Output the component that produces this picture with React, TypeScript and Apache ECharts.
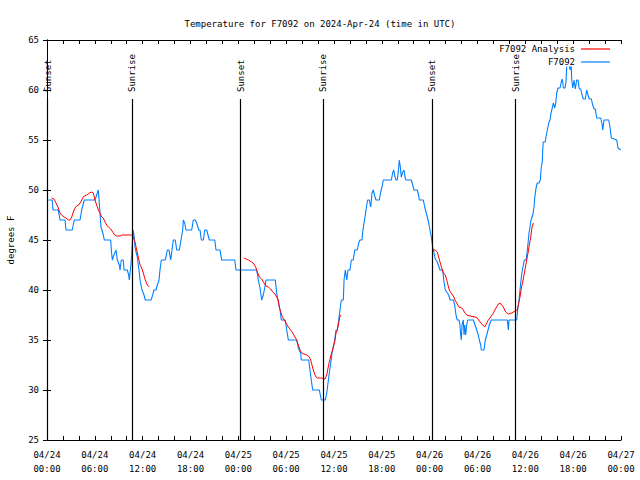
import React, { useEffect, useRef } from 'react';
import * as echarts from 'echarts';

// Hours since 2024-04-24 00:00 UTC
const xTickLabels = [
  '04/24\n00:00', '04/24\n06:00', '04/24\n12:00', '04/24\n18:00',
  '04/25\n00:00', '04/25\n06:00', '04/25\n12:00', '04/25\n18:00',
  '04/26\n00:00', '04/26\n06:00', '04/26\n12:00', '04/26\n18:00',
  '04/27\n00:00',
];

const sunEventHours = [0.09, 10.7, 24.29, 34.66, 48.33, 58.79];
const sunEventNames = ['Sunset', 'Sunrise', 'Sunset', 'Sunrise', 'Sunset', 'Sunrise'];
const sunLineTop = 59.1;

// F7092 observations
const obsHours = [
  0.16, 0.66, 0.75, 1.42, 1.63, 2.26, 2.38, 3.17, 3.42, 4.14, 4.35, 4.68, 6.02, 6.44, 6.56, 6.77, 6.9, 7.06, 7.19, 7.99,
  8.07, 8.19, 8.4, 8.66, 8.82, 9.07, 9.16, 9.32, 9.57, 9.66, 10.07, 10.25, 10.32, 10.5, 10.62, 10.79, 10.91, 11.04, 11.16, 11.33,
  11.41, 11.54, 11.67, 11.92, 12.17, 12.33, 13.05, 13.26, 13.42, 13.67, 13.84, 14.05, 14.17, 14.34, 14.84, 15.09, 15.3, 15.52, 15.68, 15.84,
  16.09, 16.27, 16.6, 16.81, 17.02, 17.1, 17.27, 17.44, 18.15, 18.35, 18.6, 18.78, 19.03, 19.19, 19.36, 19.61, 19.78, 20.03, 20.2, 20.36,
  21.04, 21.2, 21.7, 21.91, 23.55, 23.71, 26.3, 26.51, 26.72, 26.93, 27.13, 27.31, 27.47, 28.64, 28.81, 29.01, 29.23, 29.39, 29.89, 30.07,
  30.27, 31.32, 31.52, 31.82, 31.9, 32.83, 32.99, 33.15, 33.33, 34.16, 34.41, 34.91, 35.09, 35.25, 35.41, 35.59, 35.75, 35.91, 36.09, 36.25,
  36.41, 36.59, 36.75, 36.92, 37.17, 37.26, 37.42, 37.6, 37.76, 38.01, 38.17, 38.42, 38.6, 38.92, 39.1, 39.26, 39.51, 39.6, 39.76, 39.93,
  40.1, 40.23, 40.43, 40.61, 40.77, 40.93, 41.11, 41.27, 41.68, 41.86, 42.02, 42.19, 43.19, 43.36, 43.49, 43.65, 43.78, 43.94, 44.12, 44.19,
  44.32, 44.44, 44.62, 44.78, 44.91, 45.03, 45.7, 45.87, 46.04, 46.45, 46.63, 46.71, 47.2, 47.38, 47.54, 47.7, 47.88, 48.04, 48.21, 48.38,
  48.54, 48.71, 48.96, 49.13, 49.3, 49.63, 49.8, 49.96, 50.14, 50.39, 50.55, 50.97, 51.14, 51.3, 51.46, 51.68, 51.8, 51.89, 51.97, 52.06,
  52.22, 52.31, 52.39, 52.52, 52.64, 52.77, 53.48, 53.69, 53.9, 54.1, 54.23, 54.4, 54.48, 54.82, 54.98, 55.16, 55.32, 55.48, 55.73, 57.74,
  57.87, 57.95, 58.92, 59.04, 59.21, 59.33, 59.46, 59.62, 59.75, 59.87, 60.09, 60.21, 60.34, 60.46, 60.59, 60.71, 60.93, 61.09, 61.18, 61.34,
  61.5, 61.72, 61.88, 62.0, 62.13, 62.18, 62.25, 62.5, 62.63, 62.76, 62.93, 63.1, 63.22, 63.38, 63.51, 63.69, 63.81, 63.94, 64.1, 64.35,
  64.51, 64.64, 64.77, 64.98, 65.1, 65.23, 65.44, 65.61, 65.73, 65.82, 65.95, 66.11, 66.27, 66.44, 66.61, 66.77, 66.94, 67.11, 67.27, 67.52,
  67.7, 67.86, 68.02, 68.28, 68.45, 68.62, 68.78, 68.95, 69.46, 69.62, 69.71, 69.87, 70.46, 70.62, 70.79, 71.46, 71.62, 71.96,
];
const obsTemps = [
  49, 49, 48, 48, 47, 47, 46, 46, 47, 47, 48, 49, 49, 50, 48.7, 46.3, 46, 45.5, 45, 45,
  44, 43, 43.5, 44, 43, 42.5, 42, 43, 43, 42, 42, 41.5, 41, 42.3, 43.5, 46, 45.5, 44.3, 43.8, 43.3,
  42.7, 42, 41, 40, 39.5, 39, 39, 39.5, 40, 40, 40.5, 41, 42, 43, 43, 44, 44, 43, 44, 45,
  45, 44, 44, 45, 46, 47, 46.7, 46, 46, 47, 47, 46.7, 46, 46, 45, 45, 46, 46, 45.5, 45,
  45, 44, 44, 43, 43, 42, 42, 41, 40.2, 39, 39.5, 40.2, 41, 41, 39.7, 38.8, 38, 37, 37, 36,
  35, 35, 34.2, 33.7, 33, 33, 32, 31, 30, 30, 29, 29, 29.7, 30.7, 31.7, 32.7, 33.7, 34.3, 35, 36,
  36, 37, 38, 39, 39, 41, 42, 41, 42, 42, 43, 43, 44, 44, 44.7, 45, 45, 45.8, 46.7, 47.5,
  48.5, 49, 49, 48.3, 49.7, 50, 49.4, 49, 49, 49.8, 50.3, 51, 51, 51.7, 52, 51.3, 51, 51, 52.3, 53,
  52.3, 51.3, 51.8, 52, 51.3, 51, 51, 50.5, 50, 50, 49.4, 49, 49, 48.3, 47.8, 47.3, 46.7, 46, 45.3, 44.3,
  43.7, 43.1, 42.8, 42.4, 42, 42, 40.8, 40, 39.8, 39.5, 39, 39, 38.5, 37.5, 37, 37, 36.5, 35.5, 35, 36.5,
  37, 35.5, 36.5, 35.5, 36.5, 37, 37, 36.5, 36, 35.5, 35, 34.5, 34, 34, 35, 35.5, 36, 36.5, 37, 37,
  36, 37, 37, 38, 39, 40, 41, 42, 42.5, 43, 43, 43.7, 44.7, 45.7, 46.3, 47, 47.5, 48.3, 49.2, 50.2,
  50.7, 50.7, 51, 52.3, 52.8, 54, 54.8, 54.8, 55.5, 56, 56.7, 57, 57.7, 58.2, 58.7, 58.2, 58.7, 59.7, 60.2, 60.2,
  60.8, 61.1, 60.2, 60.2, 60.8, 63, 63, 62, 63, 61, 60.2, 61, 60.1, 61, 61, 60.1, 60.1, 59.5, 59.1, 59.1,
  60, 59.5, 59.1, 59.1, 58.5, 58.1, 58.1, 57.2, 57.2, 56.6, 56, 57, 57, 56.3, 55.2, 55, 54.2, 54,
];

// F7092 Analysis (three separate runs)
const anaHours1 = [
  0.59, 0.88, 1.13, 1.42, 1.63, 1.84, 2.13, 2.38, 2.67, 2.89, 3.1, 3.3, 3.51, 3.73, 3.98, 4.23, 4.48, 4.68, 4.98, 5.31,
  5.61, 5.81, 6.02, 6.23, 6.44, 6.65, 6.86, 7.06, 7.28, 7.49, 7.69, 7.99, 8.24, 8.49, 8.74, 9.16, 9.37, 10.62, 10.83, 11.04,
  11.25, 11.45, 11.67, 11.88, 12.08, 12.33, 12.58, 12.83,
];
const anaTemps1 = [
  49.2, 49.1, 48.7, 48.2, 47.7, 47.5, 47.3, 47.2, 47, 47, 47.3, 47.8, 48.2, 48.4, 48.5, 48.8, 49.2, 49.4, 49.5, 49.7,
  49.8, 49.7, 49, 48.5, 48, 47.7, 47.3, 47.2, 46.8, 46.5, 46.3, 46.1, 45.8, 45.5, 45.4, 45.4, 45.5, 45.5, 45.3, 44.8,
  44, 43.3, 42.5, 42.2, 41.7, 41, 40.5, 40.3,
];
const anaHours2 = [
  24.71, 25.25, 25.68, 25.97, 26.22, 26.43, 26.63, 26.93, 27.22, 27.47, 27.76, 28.06, 28.31, 28.6, 28.81, 29.01, 29.14, 29.32, 29.48, 29.73,
  29.98, 30.27, 30.57, 30.82, 31.11, 31.32, 31.52, 31.74, 31.95, 32.24, 32.58, 32.9, 33.08, 33.24, 33.4, 33.58, 33.74, 33.91, 34.46, 34.87,
  35.09, 35.25, 35.41, 35.59, 35.75, 35.91, 36.09, 36.25, 36.41, 36.59, 36.75, 36.88,
];
const anaTemps2 = [
  43.2, 43, 42.8, 42.6, 42.2, 41.7, 41.3, 41.1, 40.7, 40.4, 40.3, 40.1, 39.8, 39.6, 39.3, 39, 38.3, 37.8, 37.4, 37,
  36.7, 36.3, 36, 35.7, 35.3, 35, 34.5, 34, 33.7, 33.6, 33.5, 33.3, 33, 32.5, 32, 31.6, 31.3, 31.2, 31.2, 31.1,
  31.5, 32.2, 32.8, 33.4, 33.8, 34.3, 34.8, 35.7, 36, 36.7, 37.4, 37.5,
];
const anaHours3 = [
  48.38, 48.67, 48.96, 49.13, 49.3, 49.51, 49.71, 49.96, 50.14, 50.3, 50.46, 50.68, 50.97, 51.18, 51.39, 51.68, 52.02, 52.22, 52.43, 52.64,
  53.06, 53.69, 53.98, 54.32, 54.65, 54.9, 55.16, 55.36, 55.66, 55.98, 56.32, 56.61, 56.82, 57.04, 57.24, 57.54, 57.87, 58.29, 58.71, 58.99,
  59.17, 59.33, 59.5, 59.67, 59.83, 59.99, 60.17, 60.34, 60.5, 60.68, 60.84, 61.01,
];
const anaTemps3 = [
  44, 44, 43.8, 43.3, 42.8, 42.2, 41.7, 41.5, 41, 40.5, 40, 39.7, 39.4, 39, 38.7, 38.3, 38.2, 38, 37.7, 37.5,
  37.4, 37.3, 37.2, 36.8, 36.5, 36.3, 36.7, 37, 37.3, 37.7, 38.2, 38.6, 38.7, 38.5, 38.3, 37.8, 37.6, 37.7, 37.9, 38,
  38.7, 39.3, 40.2, 40.8, 41.5, 42.2, 43, 43.7, 44.5, 45.3, 46.3, 46.7,
];

const FONT = '"DejaVu Sans Mono", "Liberation Mono", monospace';
const FS = 9;

function pairs(xs: number[], ys: number[]) {
  return xs.map((x, i) => [x, ys[i]]);
}

export default function App() {
  const ref = useRef<HTMLDivElement>(null);

  useEffect(() => {
    if (!ref.current) return;
    const chart = echarts.init(ref.current, undefined, { renderer: 'svg' });

    const anaData: any[] = [
      ...pairs(anaHours1, anaTemps1),
      [18, null],
      ...pairs(anaHours2, anaTemps2),
      [42, null],
      ...pairs(anaHours3, anaTemps3),
    ];

    const tickCommon = {
      axisLine: { show: true, lineStyle: { color: '#000', width: 1 } },
      axisTick: { show: true, inside: true, length: 4, lineStyle: { color: '#000' } },
      splitLine: { show: false },
    };

    chart.setOption({
      animation: false,
      backgroundColor: '#fff',
      textStyle: { fontFamily: FONT, fontSize: FS, color: '#000' },
      title: {
        text: 'Temperature for F7092 on 2024-Apr-24 (time in UTC)',
        left: 'center',
        top: 14,
        textStyle: { fontFamily: FONT, fontSize: FS, fontWeight: 'normal', color: '#000' },
      },
      grid: { left: 47, right: 19, top: 40, bottom: 40, containLabel: false, outerBoundsMode: 'none' },
      xAxis: [
        {
          type: 'value', min: 0, max: 72, interval: 6, position: 'bottom',
          ...tickCommon,
          minorTick: { show: true, splitNumber: 3, length: 4, lineStyle: { color: '#000' } },
          axisLabel: {
            show: true, margin: 8, fontFamily: FONT, fontSize: FS, color: '#000', lineHeight: 14,
            formatter: (v: number) => xTickLabels[Math.round(v / 6)] ?? '',
          },
        },
        {
          type: 'value', min: 0, max: 72, interval: 6, position: 'top',
          ...tickCommon,
          minorTick: { show: true, splitNumber: 3, length: 4, lineStyle: { color: '#000' } },
          axisLabel: { show: false },
        },
      ],
      yAxis: [
        {
          type: 'value', min: 25, max: 65, interval: 5, position: 'left',
          ...tickCommon,
          name: 'degrees F', nameLocation: 'middle', nameRotate: 90, nameGap: 32,
          nameTextStyle: { fontFamily: FONT, fontSize: FS, color: '#000' },
          axisLabel: { show: true, margin: 8, fontFamily: FONT, fontSize: FS, color: '#000' },
        },
        {
          type: 'value', min: 25, max: 65, interval: 5, position: 'right',
          ...tickCommon,
          axisLabel: { show: false },
        },
      ],
      series: [
        {
          name: 'Sun',
          type: 'line',
          data: [],
          silent: true,
          markLine: {
            silent: true,
            symbol: ['none', 'none'],
            label: { show: false },
            lineStyle: { color: '#000', width: 1.2, type: 'solid' },
            data: sunEventHours.map((h) => [
              { coord: [h, 25] },
              { coord: [h, sunLineTop] },
            ]),
          },
        },
        {
          name: 'F7092',
          type: 'line',
          data: pairs(obsHours, obsTemps),
          showSymbol: false,
          symbol: 'none',
          lineStyle: { color: '#0080ff', width: 1.1 },
          itemStyle: { color: '#0080ff' },
          z: 3,
        },
        {
          name: 'F7092 Analysis',
          type: 'line',
          data: anaData,
          connectNulls: false,
          showSymbol: false,
          symbol: 'none',
          lineStyle: { color: '#ff0000', width: 1 },
          itemStyle: { color: '#ff0000' },
          z: 4,
        },
      ],
    });

    const topPx = chart.convertToPixel({ yAxisIndex: 0 }, sunLineTop) as number;
    const graphics: any[] = sunEventHours.map((h, i) => {
      const px = chart.convertToPixel({ xAxisIndex: 0 }, h) as number;
      return {
        type: 'text',
        x: px,
        y: topPx - 7,
        rotation: Math.PI / 2,
        silent: true,
        style: {
          text: sunEventNames[i],
          textAlign: 'left',
          textVerticalAlign: 'middle',
          font: `${FS}px ${FONT}`,
          fill: '#000',
        },
      };
    });
    const legendItems = [
      { name: 'F7092 Analysis', color: '#ff0000', y: 49 },
      { name: 'F7092', color: '#0080ff', y: 62 },
    ];
    legendItems.forEach((it) => {
      graphics.push({
        type: 'text',
        x: 575,
        y: it.y,
        silent: true,
        style: {
          text: it.name,
          textAlign: 'right',
          textVerticalAlign: 'middle',
          font: `${FS}px ${FONT}`,
          fill: '#000',
          backgroundColor: '#fff',
        },
        z: 10,
      });
      graphics.push({
        type: 'line',
        silent: true,
        shape: { x1: 581, y1: it.y, x2: 610, y2: it.y },
        style: { stroke: it.color, lineWidth: 1.2 },
        z: 10,
      });
    });
    chart.setOption({ graphic: graphics });

    return () => chart.dispose();
  }, []);

  return (
    <div
      ref={ref}
      style={{ position: 'absolute', left: 0, top: 0, width: 640, height: 480, background: '#fff' }}
    />
  );
}
